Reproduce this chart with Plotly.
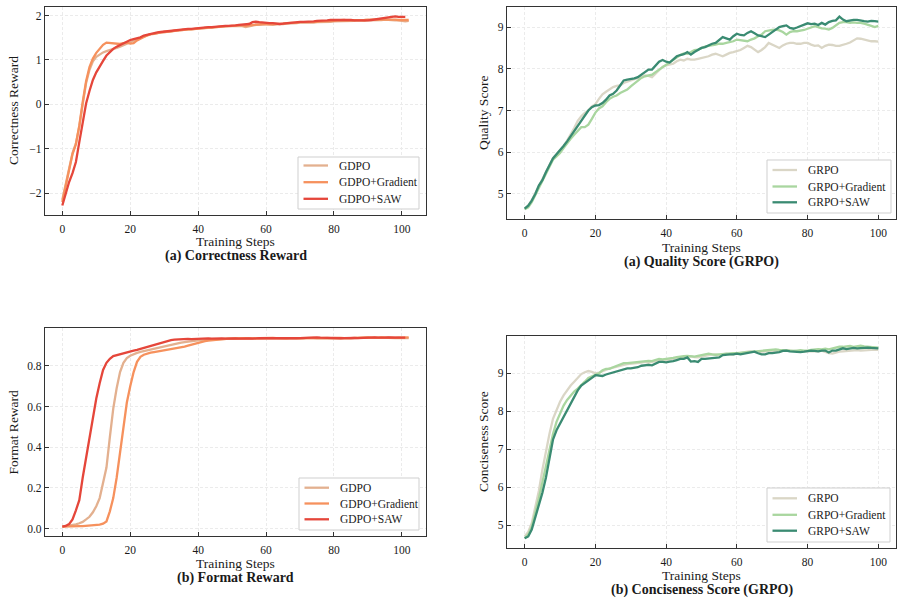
import plotly.graph_objects as go

# ---------------- data ----------------
corr_gdpo = [-2.15, -1.82, -1.45, -1.10, -0.88, -0.50, 0.00, 0.48, 0.78, 0.97,
             1.07, 1.13, 1.17, 1.20, 1.22, 1.25, 1.27, 1.30, 1.33, 1.37,
             1.40, 1.44, 1.47, 1.50, 1.53, 1.56, 1.58, 1.59, 1.61, 1.62,
             1.63, 1.63, 1.64, 1.66, 1.66, 1.67, 1.68, 1.68, 1.69, 1.70,
             1.70, 1.71, 1.72, 1.72, 1.73, 1.74, 1.74, 1.75, 1.75, 1.76,
             1.76, 1.76, 1.77, 1.76, 1.74, 1.76, 1.78, 1.79, 1.79, 1.80,
             1.80, 1.80, 1.79, 1.80, 1.80, 1.81, 1.82, 1.82, 1.83, 1.83,
             1.84, 1.84, 1.84, 1.83, 1.84, 1.85, 1.85, 1.86, 1.86, 1.86,
             1.87, 1.87, 1.88, 1.88, 1.87, 1.88, 1.88, 1.89, 1.88, 1.88,
             1.89, 1.89, 1.90, 1.90, 1.90, 1.91, 1.90, 1.90, 1.89, 1.89,
             1.88, 1.87, 1.88]
corr_grad = [-2.20, -1.85, -1.48, -1.12, -0.90, -0.48, 0.05, 0.52, 0.84, 1.03,
             1.16, 1.26, 1.34, 1.39, 1.38, 1.37, 1.37, 1.36, 1.38, 1.39,
             1.37, 1.38, 1.44, 1.49, 1.52, 1.55, 1.58, 1.59, 1.61, 1.62,
             1.63, 1.64, 1.65, 1.66, 1.66, 1.67, 1.68, 1.69, 1.69, 1.70,
             1.71, 1.71, 1.72, 1.73, 1.73, 1.74, 1.75, 1.75, 1.76, 1.76,
             1.77, 1.77, 1.78, 1.78, 1.77, 1.78, 1.79, 1.80, 1.80, 1.81,
             1.81, 1.80, 1.81, 1.81, 1.82, 1.82, 1.83, 1.83, 1.84, 1.84,
             1.85, 1.85, 1.85, 1.85, 1.86, 1.86, 1.87, 1.87, 1.87, 1.88,
             1.88, 1.89, 1.90, 1.90, 1.89, 1.89, 1.90, 1.89, 1.90, 1.90,
             1.91, 1.91, 1.91, 1.92, 1.92, 1.92, 1.92, 1.91, 1.91, 1.90,
             1.90, 1.90, 1.90]
corr_saw = [-2.28, -2.00, -1.75, -1.55, -1.30, -0.85, -0.40, 0.02, 0.30, 0.55,
            0.72, 0.86, 0.98, 1.10, 1.18, 1.25, 1.30, 1.34, 1.38, 1.42,
            1.45, 1.47, 1.49, 1.51, 1.55, 1.57, 1.59, 1.61, 1.62, 1.63,
            1.64, 1.65, 1.66, 1.67, 1.68, 1.68, 1.69, 1.70, 1.70, 1.71,
            1.72, 1.72, 1.73, 1.74, 1.74, 1.75, 1.76, 1.76, 1.77, 1.77,
            1.77, 1.78, 1.79, 1.80, 1.81, 1.81, 1.85, 1.86, 1.85, 1.84,
            1.84, 1.83, 1.83, 1.82, 1.81, 1.82, 1.83, 1.84, 1.85, 1.85,
            1.86, 1.86, 1.86, 1.86, 1.87, 1.88, 1.88, 1.89, 1.89, 1.90,
            1.90, 1.90, 1.90, 1.91, 1.90, 1.90, 1.89, 1.89, 1.88, 1.88,
            1.89, 1.90, 1.91, 1.92, 1.93, 1.94, 1.96, 1.97, 1.98, 1.97,
            1.97, 1.97]

fmt_gdpo = [0.010, 0.012, 0.015, 0.018, 0.021, 0.026, 0.033, 0.045, 0.058, 0.080,
            0.110, 0.150, 0.220, 0.300, 0.450, 0.590, 0.690, 0.770, 0.815, 0.838,
            0.850, 0.858, 0.864, 0.869, 0.873, 0.877, 0.881, 0.885, 0.889, 0.893,
            0.897, 0.900, 0.904, 0.908, 0.911, 0.914, 0.917, 0.920, 0.922, 0.924,
            0.926, 0.928, 0.929, 0.930, 0.931, 0.932, 0.933, 0.933, 0.934, 0.934,
            0.934, 0.935, 0.936, 0.935, 0.934, 0.935, 0.936, 0.935, 0.934, 0.935,
            0.936, 0.937, 0.936, 0.938, 0.937, 0.935, 0.934, 0.936, 0.937, 0.936,
            0.935, 0.936, 0.937, 0.938, 0.937, 0.936, 0.937, 0.938, 0.937, 0.936,
            0.937, 0.938, 0.937, 0.936, 0.935, 0.936, 0.937, 0.938, 0.937, 0.938,
            0.939, 0.938, 0.937, 0.938, 0.939, 0.938, 0.937, 0.936, 0.937, 0.938,
            0.937, 0.936, 0.937]
fmt_grad = [0.010, 0.011, 0.011, 0.012, 0.012, 0.012, 0.012, 0.013, 0.013, 0.014,
            0.016, 0.019, 0.024, 0.035, 0.085, 0.150, 0.250, 0.370, 0.500, 0.620,
            0.700, 0.770, 0.820, 0.845, 0.855, 0.861, 0.865, 0.868, 0.871, 0.874,
            0.876, 0.878, 0.880, 0.883, 0.887, 0.891, 0.895, 0.900, 0.905, 0.910,
            0.915, 0.919, 0.922, 0.925, 0.927, 0.929, 0.931, 0.932, 0.933, 0.934,
            0.934, 0.935, 0.934, 0.935, 0.936, 0.935, 0.934, 0.935, 0.936, 0.937,
            0.936, 0.937, 0.938, 0.937, 0.936, 0.935, 0.936, 0.937, 0.938, 0.937,
            0.936, 0.937, 0.938, 0.939, 0.938, 0.937, 0.938, 0.939, 0.938, 0.937,
            0.938, 0.939, 0.938, 0.937, 0.936, 0.937, 0.938, 0.939, 0.938, 0.939,
            0.940, 0.939, 0.938, 0.939, 0.940, 0.939, 0.938, 0.937, 0.938, 0.939,
            0.940, 0.939, 0.940]
fmt_saw = [0.010, 0.013, 0.022, 0.045, 0.090, 0.140, 0.250, 0.345, 0.450, 0.550,
           0.640, 0.715, 0.780, 0.815, 0.835, 0.848, 0.853, 0.857, 0.862, 0.866,
           0.870, 0.875, 0.879, 0.884, 0.889, 0.895, 0.900, 0.905, 0.910, 0.915,
           0.920, 0.924, 0.927, 0.929, 0.930, 0.932, 0.934, 0.933, 0.932, 0.933,
           0.934, 0.933, 0.934, 0.935, 0.934, 0.935, 0.936, 0.935, 0.934, 0.935,
           0.936, 0.935, 0.934, 0.935, 0.936, 0.935, 0.934, 0.936, 0.937, 0.936,
           0.937, 0.938, 0.937, 0.936, 0.935, 0.936, 0.937, 0.936, 0.935, 0.936,
           0.937, 0.938, 0.937, 0.938, 0.939, 0.940, 0.939, 0.938, 0.937, 0.938,
           0.938, 0.937, 0.936, 0.937, 0.938, 0.939, 0.938, 0.937, 0.938, 0.937,
           0.938, 0.939, 0.940, 0.939, 0.938, 0.939, 0.940, 0.939, 0.940, 0.939,
           0.939, 0.939]

qual_grpo = [4.66, 4.72, 4.85, 5.02, 5.20, 5.35, 5.55, 5.70, 5.86, 5.95,
             6.05, 6.15, 6.28, 6.42, 6.58, 6.75, 6.86, 6.94, 7.00, 7.10,
             7.15, 7.28, 7.39, 7.45, 7.51, 7.56, 7.59, 7.60, 7.66, 7.70,
             7.72, 7.75, 7.77, 7.80, 7.84, 7.83, 7.80, 7.88, 7.96, 8.05,
             8.08, 8.10, 8.12, 8.18, 8.22, 8.20, 8.24, 8.22, 8.22, 8.24,
             8.26, 8.28, 8.30, 8.34, 8.36, 8.33, 8.30, 8.34, 8.38, 8.40,
             8.42, 8.45, 8.50, 8.55, 8.52, 8.45, 8.40, 8.45, 8.52, 8.62,
             8.58, 8.54, 8.50, 8.56, 8.60, 8.62, 8.62, 8.60, 8.60, 8.62,
             8.62, 8.58, 8.55, 8.56, 8.50, 8.55, 8.58, 8.57, 8.55, 8.55,
             8.57, 8.60, 8.63, 8.68, 8.73, 8.72, 8.70, 8.68, 8.66, 8.66,
             8.65]
qual_grad = [4.63, 4.68, 4.80, 4.97, 5.15, 5.30, 5.50, 5.66, 5.82, 5.90,
             5.98, 6.10, 6.22, 6.32, 6.42, 6.52, 6.60, 6.60, 6.66, 6.80,
             6.95, 7.05, 7.10, 7.20, 7.28, 7.33, 7.36, 7.42, 7.47, 7.50,
             7.58, 7.65, 7.72, 7.78, 7.82, 7.84, 7.86, 7.92, 7.98, 8.05,
             8.10, 8.17, 8.22, 8.28, 8.33, 8.37, 8.36, 8.40, 8.45, 8.46,
             8.50, 8.53, 8.55, 8.56, 8.58, 8.60, 8.60, 8.62, 8.64, 8.66,
             8.70, 8.69, 8.67, 8.66, 8.70, 8.73, 8.78, 8.82, 8.90, 8.92,
             8.93, 8.94, 8.92, 8.88, 8.82, 8.88, 8.90, 8.90, 8.91, 8.93,
             8.96, 8.99, 9.02, 9.00, 8.97, 8.96, 8.94, 8.98, 9.05, 9.10,
             9.12, 9.12, 9.10, 9.11, 9.10, 9.10, 9.08, 9.06, 9.03, 9.00,
             9.03]
qual_saw = [4.65, 4.72, 4.84, 5.00, 5.20, 5.33, 5.52, 5.68, 5.85, 5.95,
            6.04, 6.15, 6.26, 6.38, 6.50, 6.62, 6.75, 6.88, 7.00, 7.08,
            7.12, 7.13, 7.18, 7.26, 7.36, 7.40, 7.48, 7.60, 7.72, 7.74,
            7.75, 7.77, 7.80, 7.86, 7.92, 7.98, 7.98, 8.08, 8.17, 8.21,
            8.17, 8.15, 8.22, 8.30, 8.33, 8.35, 8.40, 8.34, 8.40, 8.45,
            8.50, 8.52, 8.57, 8.60, 8.62, 8.68, 8.76, 8.73, 8.70, 8.78,
            8.84, 8.81, 8.80, 8.86, 8.90, 8.85, 8.80, 8.78, 8.76, 8.82,
            8.88, 8.96, 9.00, 9.02, 9.04, 8.98, 8.96, 8.99, 9.02, 9.05,
            9.09, 9.07, 9.08, 9.05, 9.10, 9.06, 9.12, 9.15, 9.16, 9.25,
            9.18, 9.14, 9.16, 9.17, 9.17, 9.15, 9.14, 9.13, 9.15, 9.14,
            9.13]

conc_grpo = [4.70, 4.82, 5.05, 5.45, 5.90, 6.45, 6.95, 7.40, 7.80, 8.05,
             8.25, 8.42, 8.56, 8.68, 8.78, 8.88, 8.98, 9.03, 9.06, 9.04,
             9.00, 9.02, 9.06, 9.10, 9.13, 9.15, 9.18, 9.20, 9.22, 9.24,
             9.25, 9.25, 9.26, 9.28, 9.30, 9.28, 9.30, 9.32, 9.34, 9.35,
             9.35, 9.36, 9.38, 9.40, 9.42, 9.42, 9.44, 9.45, 9.43, 9.42,
             9.44, 9.46, 9.48, 9.50, 9.49, 9.48, 9.50, 9.52, 9.50, 9.50,
             9.52, 9.54, 9.56, 9.57, 9.58, 9.56, 9.55, 9.57, 9.58, 9.58,
             9.58, 9.59, 9.60, 9.60, 9.61, 9.60, 9.59, 9.58, 9.58, 9.57,
             9.58, 9.58, 9.57, 9.58, 9.60, 9.56, 9.53, 9.52, 9.55, 9.57,
             9.58, 9.59, 9.60, 9.60, 9.61, 9.60, 9.60, 9.61, 9.62, 9.62,
             9.62]
conc_grad = [4.65, 4.75, 4.95, 5.30, 5.70, 6.12, 6.55, 7.00, 7.40, 7.72,
             7.95, 8.15, 8.30, 8.42, 8.52, 8.60, 8.68, 8.78, 8.88, 8.93,
             8.96, 9.00, 9.08, 9.12, 9.12, 9.16, 9.20, 9.24, 9.27, 9.27,
             9.28, 9.28, 9.29, 9.30, 9.32, 9.33, 9.32, 9.34, 9.38, 9.37,
             9.38, 9.39, 9.41, 9.43, 9.45, 9.45, 9.46, 9.45, 9.44, 9.46,
             9.48, 9.50, 9.52, 9.50, 9.49, 9.50, 9.51, 9.52, 9.53, 9.53,
             9.53, 9.54, 9.55, 9.56, 9.57, 9.58, 9.58, 9.60, 9.61, 9.62,
             9.62, 9.63, 9.62, 9.61, 9.60, 9.60, 9.59, 9.60, 9.61, 9.60,
             9.60, 9.62, 9.63, 9.64, 9.63, 9.65, 9.63, 9.66, 9.68, 9.70,
             9.70, 9.71, 9.72, 9.70, 9.72, 9.73, 9.71, 9.70, 9.70, 9.69,
             9.68]
conc_saw = [4.65, 4.70, 4.88, 5.20, 5.52, 5.85, 6.25, 6.80, 7.25, 7.50,
            7.68, 7.85, 8.02, 8.20, 8.38, 8.55, 8.68, 8.74, 8.80, 8.88,
            8.95, 8.94, 8.93, 8.97, 9.00, 9.02, 9.04, 9.08, 9.10, 9.13,
            9.13, 9.14, 9.16, 9.20, 9.22, 9.22, 9.21, 9.25, 9.30, 9.30,
            9.29, 9.31, 9.32, 9.35, 9.38, 9.38, 9.42, 9.31, 9.32, 9.30,
            9.38, 9.38, 9.39, 9.40, 9.40, 9.42, 9.48, 9.50, 9.50, 9.50,
            9.52, 9.50, 9.52, 9.53, 9.55, 9.57, 9.53, 9.50, 9.50, 9.53,
            9.53, 9.54, 9.56, 9.59, 9.60, 9.58, 9.57, 9.56, 9.56, 9.57,
            9.58, 9.60, 9.59, 9.58, 9.60, 9.60, 9.55, 9.60, 9.60, 9.62,
            9.66, 9.64, 9.65, 9.67, 9.66, 9.67, 9.68, 9.68, 9.67, 9.67,
            9.66]

gdpo_names = ["GDPO", "GDPO+Gradient", "GDPO+SAW"]
grpo_names = ["GRPO", "GRPO+Gradient", "GRPO+SAW"]
gdpo_colors = ["#E3B08F", "#F6915D", "#E5463A"]
grpo_colors = ["#DAD6C6", "#A9D69F", "#3A8B72"]

x_ticks = [0, 20, 40, 60, 80, 100]

W, H = 904, 604
FONT = "Liberation Serif"
TXT = "#1a1a1a"

def fx(p):
    return p / W

def fy(p):
    return 1 - p / H

panels = [
    dict(series=[corr_gdpo, corr_grad, corr_saw], names=gdpo_names, colors=gdpo_colors,
         box=(45, 426, 7, 215), ylabel="Correctness Reward", sub="(a) Correctness Reward",
         yticks=[-2, -1, 0, 1, 2], yfmt="d", xt_y=242, sub_y=256.5, yl_x=13,
         leg=(298, 419, 157, 209), leg_rows=(165.5, 182.2, 198.8)),
    dict(series=[qual_grpo, qual_grad, qual_saw], names=grpo_names, colors=grpo_colors,
         box=(507, 896, 7, 219), ylabel="Quality Score", sub="(a) Quality Score (GRPO)",
         yticks=[5, 6, 7, 8, 9], yfmt="d", xt_y=247.5, sub_y=261.5, yl_x=483,
         leg=(767, 891, 160, 213), leg_rows=(170, 186.5, 202.3)),
    dict(series=[fmt_gdpo, fmt_grad, fmt_saw], names=gdpo_names, colors=gdpo_colors,
         box=(45, 426, 328, 536), ylabel="Format Reward", sub="(b) Format Reward",
         yticks=[0.0, 0.2, 0.4, 0.6, 0.8], yfmt=".1f", xt_y=563, sub_y=577.5, yl_x=12.5,
         leg=(299, 419, 478, 530), leg_rows=(487.7, 503.5, 519.3)),
    dict(series=[conc_grpo, conc_grad, conc_saw], names=grpo_names, colors=grpo_colors,
         box=(507, 896, 336, 548), ylabel="Conciseness Score", sub="(b) Conciseness Score (GRPO)",
         yticks=[5, 6, 7, 8, 9], yfmt="d", xt_y=575.5, sub_y=590, yl_x=483,
         leg=(767, 890, 488, 542), leg_rows=(498.3, 514.8, 530.7)),
]

fig = go.Figure()
annotations = []
shapes = []
layout = dict(width=W, height=H, margin=dict(l=0, r=0, t=0, b=0),
              paper_bgcolor="white", plot_bgcolor="white", showlegend=False,
              font=dict(family=FONT, size=12, color=TXT))

for i, p in enumerate(panels):
    k = "" if i == 0 else str(i + 1)
    xa, ya = "x" + k, "y" + k
    allx, ally = [], []
    for ys, nm, c in zip(p["series"], p["names"], p["colors"]):
        xs = list(range(len(ys)))
        allx += xs
        ally += ys
        fig.add_trace(go.Scatter(x=xs, y=ys, mode="lines", name=nm,
                                 line=dict(color=c, width=2.3),
                                 xaxis=xa, yaxis=ya, showlegend=False))
    x0, x1 = min(allx), max(allx)
    y0, y1 = min(ally), max(ally)
    mx, my = 0.05 * (x1 - x0), 0.05 * (y1 - y0)
    l, r, t, b = p["box"]
    axis_common = dict(showline=True, mirror=True, linecolor="#333333", linewidth=1.4,
                       ticks="inside", ticklen=4, tickwidth=1, tickcolor="#333333",
                       showgrid=True, gridcolor="#ebebeb", gridwidth=0.7,
                       griddash="3px,2px", zeroline=False,
                       tickfont=dict(family=FONT, size=11.5, color=TXT))
    layout["xaxis" + k] = dict(axis_common, domain=[fx(l), fx(r)], anchor=ya,
                               range=[x0 - mx, x1 + mx], tickvals=x_ticks,
                               ticklabelstandoff=3)
    layout["yaxis" + k] = dict(axis_common, domain=[fy(b), fy(t)], anchor=xa,
                               range=[y0 - my, y1 + my], tickvals=p["yticks"],
                               tickformat=p["yfmt"])

    # legend box (drawn in pixel positions of the reference layout)
    bl, br, bt, bb = p["leg"]
    shapes.append(dict(type="rect", xref="paper", yref="paper",
                       x0=fx(bl), x1=fx(br), y0=fy(bb), y1=fy(bt),
                       line=dict(color="#cfcfcf", width=1), fillcolor="white", layer="above"))
    for nm, c, ry in zip(p["names"], p["colors"], p["leg_rows"]):
        shapes.append(dict(type="line", xref="paper", yref="paper",
                           x0=fx(bl + 5.5), x1=fx(bl + 30), y0=fy(ry), y1=fy(ry),
                           line=dict(color=c, width=2.3), layer="above"))
        annotations.append(dict(text=nm, x=fx(bl + 39), y=fy(ry), xref="paper", yref="paper",
                                showarrow=False, xanchor="left", yanchor="middle",
                                font=dict(family=FONT, size=11.5, color=TXT)))

    cx = fx((l + r) / 2)
    annotations.append(dict(text="Training Steps", x=cx, y=fy(p["xt_y"]), xref="paper",
                            yref="paper", showarrow=False, xanchor="center", yanchor="middle",
                            font=dict(family=FONT, size=13.5, color=TXT)))
    annotations.append(dict(text="<b>" + p["sub"] + "</b>", x=cx, y=fy(p["sub_y"]),
                            xref="paper", yref="paper", showarrow=False, xanchor="center",
                            yanchor="middle", font=dict(family=FONT, size=14, color=TXT)))
    annotations.append(dict(text=p["ylabel"], x=fx(p["yl_x"]), y=fy((t + b) / 2),
                            xref="paper", yref="paper", showarrow=False, textangle=-90,
                            xanchor="center", yanchor="middle",
                            font=dict(family=FONT, size=13.5, color=TXT)))

layout["annotations"] = annotations
layout["shapes"] = shapes
fig.update_layout(**layout)
fig.write_html("out.html")
